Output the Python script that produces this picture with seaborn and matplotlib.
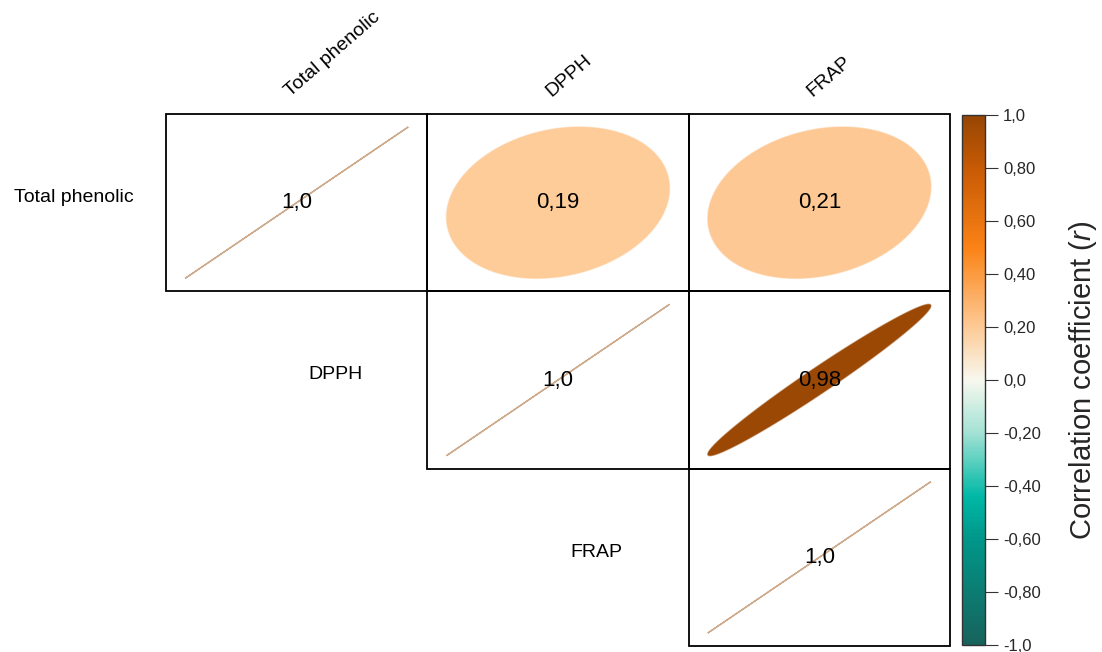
import numpy as np
import pandas as pd
import matplotlib
matplotlib.use("Agg")
import matplotlib.pyplot as plt
import seaborn as sns
from matplotlib.colors import LinearSegmentedColormap, to_rgba
from matplotlib.patches import Polygon, Rectangle

# Variables and their pairwise correlation coefficients (upper triangle)
variables = ["Total phenolic", "DPPH", "FRAP"]
row_phenolic = [1.0, 0.19, 0.21]
row_dpph = [0.19, 1.0, 0.98]
row_frap = [0.21, 0.98, 1.0]
value_labels = [["1,0", "0,19", "0,21"],
                ["0,19", "1,0", "0,98"],
                ["0,21", "0,98", "1,0"]]
cbar_ticks = [-1.0, -0.8, -0.6, -0.4, -0.2, 0.0, 0.2, 0.4, 0.6, 0.8, 1.0]
cbar_ticklabels = ["-1,0", "-0,80", "-0,60", "-0,40", "-0,20", "0,0",
                   "0,20", "0,40", "0,60", "0,80", "1,0"]

corr = pd.DataFrame([row_phenolic, row_dpph, row_frap],
                    index=variables, columns=variables)

sns.set_theme(style="white")
plt.rcParams["font.family"] = ["Liberation Sans", "DejaVu Sans"]
plt.rcParams["mathtext.fontset"] = "custom"
plt.rcParams["mathtext.rm"] = "Liberation Sans"
plt.rcParams["mathtext.it"] = "Liberation Sans:italic"

# Teal - white - orange - brown diverging palette
cmap = LinearSegmentedColormap.from_list(
    "teal_brown",
    [(0.00, "#17635c"),
     (0.20, "#00978a"),
     (0.28, "#00b8a6"),
     (0.40, "#a3e2d4"),
     (0.50, "#f8f8ef"),
     (0.60, "#fdca96"),
     (0.75, "#fb8316"),
     (0.90, "#c85a05"),
     (1.00, "#964604")])

fig = plt.figure(figsize=(11.02, 6.52), dpi=100)
ax = fig.add_axes([166 / 1102, 1 - 646 / 652, 784 / 1102, 532 / 652])
cax = fig.add_axes([962 / 1102, 1 - 645 / 652, 23 / 1102, 530 / 652])

# Heatmap provides the grid geometry and the colour scale; cells are
# shown as ellipses instead of filled squares.
hide_all = np.ones_like(corr.values, dtype=bool)
sns.heatmap(corr, mask=hide_all, cmap=cmap, vmin=-1, vmax=1,
            ax=ax, cbar_ax=cax, xticklabels=False, yticklabels=False)

n = len(variables)
scale = 0.427
t = np.linspace(0, 2 * np.pi, 200)
for i in range(n):
    for j in range(i, n):
        r = corr.iloc[i, j]
        d = np.arccos(np.clip(r, -1, 1))
        ex = np.cos(t + d / 2)
        ey = np.cos(t - d / 2)
        color = cmap((r + 1) / 2)
        pts = np.column_stack([j + 0.5 + scale * ex, i + 0.5 - scale * ey])
        ax.add_patch(Polygon(pts, closed=True, facecolor=color,
                             edgecolor=to_rgba(color, 0.45), lw=1.0, zorder=2))
        ax.add_patch(Rectangle((j, i), 1, 1, fill=False, edgecolor="black",
                               lw=1.3, zorder=3, clip_on=False))
        ax.text(j + 0.5, i + 0.5, value_labels[i][j], ha="center",
                va="center", fontsize=16, color="black", zorder=4)

# Row labels to the left of the diagonal, column labels above the grid
for k, name in enumerate(variables):
    ax.text(k - 0.352, k + 0.47, name, ha="center", va="center",
            fontsize=14, color="black", clip_on=False)
    ax.text(k + 0.485, -0.08, name, ha="left", va="bottom",
            rotation=41, rotation_mode="anchor", fontsize=14,
            color="black", clip_on=False)

for side in ax.spines.values():
    side.set_visible(False)

cbar = ax.collections[0].colorbar
cbar.set_ticks(cbar_ticks)
cbar.set_ticklabels(cbar_ticklabels)
cbar.outline.set_edgecolor("#333333")
cbar.outline.set_linewidth(1.0)
cax.tick_params(direction="out", length=9, width=0.8, color="#333333",
                labelsize=12, pad=4, right=True)
fig.text(1083 / 1102, 1 - 380 / 652, r"Correlation coefficient ($\it{r}$)",
         rotation=90, ha="center", va="center", fontsize=21)

fig.savefig("out.png", dpi=100, facecolor="white")
